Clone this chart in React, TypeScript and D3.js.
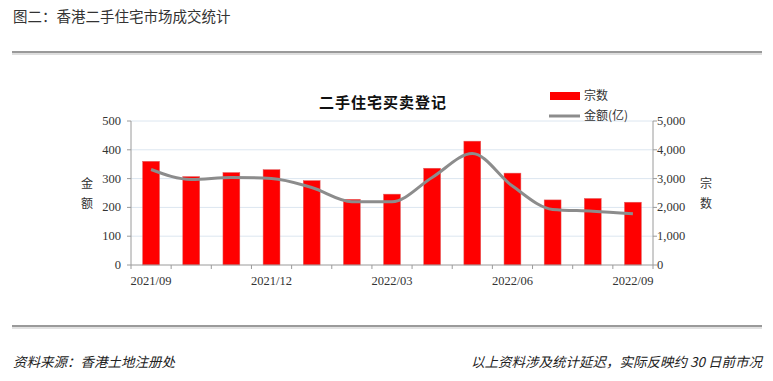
import React from "react";
import * as d3 from "d3";

const months = ["2021/09","2021/10","2021/11","2021/12","2022/01","2022/02","2022/03","2022/04","2022/05","2022/06","2022/07","2022/08","2022/09"];
const tickLabels = ["2021/09","2021/12","2022/03","2022/06","2022/09"];
const countValues = [360, 307, 321, 331, 293, 228, 246, 336, 430, 319, 226, 231, 218];
const amountValues = [3315, 2970, 3040, 3005, 2690, 2200, 2200, 3040, 3870, 2740, 1930, 1870, 1780];
const leftTicks = [0, 100, 200, 300, 400, 500];
const rightTicks = [0, 1000, 2000, 3000, 4000, 5000];

const W = 773, H = 381;
const M = { left: 131, right: 653, top: 121, bottom: 265 };

export default function App() {
  const x = d3.scaleBand<string>().domain(months).range([M.left, M.right]).paddingInner(0.58).paddingOuter(0.29);
  const step = (M.right - M.left) / months.length;
  const yL = d3.scaleLinear().domain([0, 500]).range([M.bottom, M.top]);
  const yR = d3.scaleLinear().domain([0, 5000]).range([M.bottom, M.top]);
  const line = d3.line<number>()
    .x((_, i) => (x(months[i]) as number) + x.bandwidth() / 2)
    .y((d) => yR(d))
    .curve(d3.curveMonotoneX);
  const fmt = d3.format(",");
  const serif = "Liberation Serif, Times New Roman, serif";
  const cjk = "Noto Sans CJK SC, sans-serif";
  const axisColor = "#9a9a9a";
  const textColor = "#333";

  return (
    <svg width={W} height={H} style={{ position: "absolute", left: 0, top: 0, background: "#fff" }}>
      <text x={13} y={22} fontSize={14.5} fill="#333" fontFamily={cjk}>图二：香港二手住宅市场成交统计</text>
      <rect x={12} y={51} width={750} height={2} fill="#9a9a9a" />
      <rect x={12} y={53} width={750} height={2} fill="#dedede" />
      <rect x={12} y={325} width={750} height={2} fill="#9a9a9a" />
      <rect x={12} y={327} width={750} height={2} fill="#e2e2e2" />

      {leftTicks.filter((t) => t > 0).map((t) => (
        <line key={"g" + t} x1={M.left} x2={M.right} y1={yL(t)} y2={yL(t)} stroke="#dce6f0" strokeWidth={1} />
      ))}

      {countValues.map((v, i) => (
        <rect key={"b" + i} x={x(months[i])} y={yL(v)} width={x.bandwidth()} height={yL(0) - yL(v)} fill="#ff0000" stroke="#e06060" strokeWidth={0.5} />
      ))}

      <path d={line(amountValues) || ""} fill="none" stroke="#8c8c8c" strokeWidth={3} strokeLinejoin="round" />

      <line x1={M.left} x2={M.left} y1={M.top} y2={M.bottom} stroke={axisColor} />
      <line x1={M.right} x2={M.right} y1={M.top} y2={M.bottom} stroke={axisColor} />
      <line x1={M.left} x2={M.right} y1={M.bottom} y2={M.bottom} stroke={axisColor} />
      {leftTicks.map((t) => (
        <g key={"l" + t}>
          <line x1={M.left - 4} x2={M.left} y1={yL(t)} y2={yL(t)} stroke={axisColor} />
          <text x={M.left - 10} y={yL(t) + 4} textAnchor="end" fontSize={12.5} fill={textColor} fontFamily={serif}>{t}</text>
        </g>
      ))}
      {rightTicks.map((t) => (
        <g key={"r" + t}>
          <line x1={M.right} x2={M.right + 4} y1={yR(t)} y2={yR(t)} stroke={axisColor} />
          <text x={M.right + 4} y={yR(t) + 4} textAnchor="start" fontSize={12.5} fill={textColor} fontFamily={serif}>{fmt(t)}</text>
        </g>
      ))}
      {d3.range(months.length + 1).map((i) => (
        <line key={"xt" + i} x1={M.left + i * step} x2={M.left + i * step} y1={M.bottom} y2={M.bottom + 4} stroke={axisColor} />
      ))}
      {tickLabels.map((m) => (
        <text key={"xl" + m} x={(x(m) as number) + x.bandwidth() / 2} y={M.bottom + 20} textAnchor="middle" fontSize={12.5} fill={textColor} fontFamily={serif}>{m}</text>
      ))}

      <text x={87} y={188} textAnchor="middle" fontSize={12} fill={textColor} fontFamily={cjk}>金</text>
      <text x={87} y={208} textAnchor="middle" fontSize={12} fill={textColor} fontFamily={cjk}>额</text>
      <text x={706} y={188} textAnchor="middle" fontSize={12} fill={textColor} fontFamily={cjk}>宗</text>
      <text x={706} y={208} textAnchor="middle" fontSize={12} fill={textColor} fontFamily={cjk}>数</text>

      <text x={383} y={108} textAnchor="middle" fontSize={15} fontWeight="bold" fill="#111" fontFamily={cjk} letterSpacing={1}>二手住宅买卖登记</text>

      <rect x={550} y={92} width={30} height={8} fill="#ff0000" />
      <text x={584} y={100} fontSize={12} fill={textColor} fontFamily={cjk}>宗数</text>
      <line x1={549} x2={580} y1={116} y2={116} stroke="#8c8c8c" strokeWidth={3} />
      <text x={584} y={120} fontSize={12} fill={textColor} fontFamily={cjk}>金额(亿)</text>

      <text x={13} y={367} fontSize={13.5} fontStyle="italic" fill="#222" fontFamily={cjk}>资料来源：香港土地注册处</text>
      <text x={762} y={367} textAnchor="end" fontSize={13.5} fontStyle="italic" fill="#222" fontFamily={cjk}>以上资料涉及统计延迟，实际反映约 30 日前市况</text>
    </svg>
  );
}
